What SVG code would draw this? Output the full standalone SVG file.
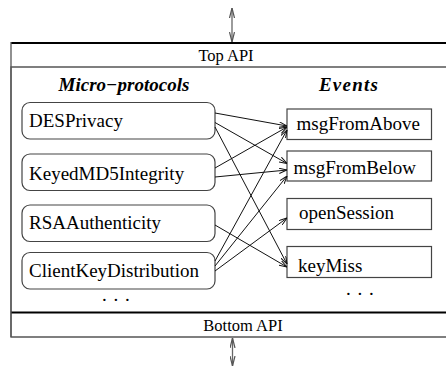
<svg xmlns="http://www.w3.org/2000/svg" width="446" height="368" viewBox="0 0 446 368">
  <style>
    .frame { fill: none; stroke: #555; stroke-width: 1.3; }
    .api { fill: none; stroke: #000; stroke-width: 2; }
    .proto { fill: #fff; stroke: #444; stroke-width: 1.2; }
    .event { fill: #fff; stroke: #444; stroke-width: 1.2; }
    .lbl { font-family: "Liberation Serif", "Times New Roman", serif; font-size: 19px; fill: #000; }
    .api-lbl { font-family: "Liberation Serif", "Times New Roman", serif; font-size: 16.5px; fill: #000; }
    .head { font-family: "Liberation Serif", "Times New Roman", serif; font-size: 19px; font-weight: bold; font-style: italic; fill: #000; }
    .dots { font-family: "Liberation Serif", "Times New Roman", serif; font-size: 19px; letter-spacing: 6.7px; fill: #000; }
    .conn { fill: none; stroke: #111; stroke-width: 1; }
    .io { fill: none; stroke: #666; stroke-width: 1.3; }
  </style>
  <defs>
    <marker id="tip" viewBox="0 0 8 6" refX="8" refY="3" markerWidth="8" markerHeight="6" markerUnits="userSpaceOnUse" orient="auto-start-reverse">
      <path d="M0,0.3 L8,3 L0,5.7" fill="none" stroke="#111" stroke-width="1"/>
    </marker>
    <marker id="ioTip" viewBox="0 0 10 6" refX="10" refY="3" markerWidth="10" markerHeight="6" markerUnits="userSpaceOnUse" orient="auto-start-reverse">
      <path d="M0,0.5 L10,3 L0,5.5" fill="none" stroke="#555" stroke-width="1.2"/>
    </marker>
  </defs>

  <!-- enclosing layer frame -->
  <g id="frame">
    <path class="frame" d="M460,67 H11 V337 H460"/>
    <line class="api" x1="11" y1="43" x2="460" y2="43"/>
    <line class="api" x1="11" y1="312.5" x2="460" y2="312.5"/>
    <line class="frame" x1="11" y1="42" x2="11" y2="337"/>
    <text class="api-lbl" x="226" y="61" text-anchor="middle">Top API</text>
    <text class="api-lbl" x="243" y="331" text-anchor="middle">Bottom API</text>
    <text class="head" x="124" y="91" text-anchor="middle">Micro−protocols</text>
    <text class="head" x="349" y="91" text-anchor="middle" letter-spacing="1.2">Events</text>
  </g>

  <!-- traffic into and out of the layer -->
  <g id="io">
    <line class="io" x1="232" y1="8" x2="232" y2="42" marker-start="url(#ioTip)" marker-end="url(#ioTip)"/>
    <line class="io" x1="232.5" y1="338" x2="232.5" y2="366" marker-start="url(#ioTip)" marker-end="url(#ioTip)"/>
  </g>

  <!-- micro-protocols -->
  <g id="DESPrivacy">
    <rect class="proto" x="22" y="102.5" width="193" height="36.5" rx="8"/>
    <text class="lbl" x="29" y="127">DESPrivacy</text>
  </g>
  <g id="KeyedMD5Integrity">
    <rect class="proto" x="22" y="154" width="193" height="36.5" rx="8"/>
    <text class="lbl" x="29" y="180">KeyedMD5Integrity</text>
  </g>
  <g id="RSAAuthenticity">
    <rect class="proto" x="22" y="205" width="193" height="36.5" rx="8"/>
    <text class="lbl" x="29" y="228.5">RSAAuthenticity</text>
  </g>
  <g id="ClientKeyDistribution">
    <rect class="proto" x="22" y="252.5" width="193" height="36.5" rx="8"/>
    <text class="lbl" x="29" y="277">ClientKeyDistribution</text>
  </g>
  <text class="dots" x="102" y="301">...</text>

  <!-- events -->
  <g id="msgFromAbove">
    <rect class="event" x="287" y="109" width="144.5" height="30.5"/>
    <text class="lbl" x="296.5" y="129.5">msgFromAbove</text>
  </g>
  <g id="msgFromBelow">
    <rect class="event" x="287" y="151" width="144.5" height="30"/>
    <text class="lbl" x="293.5" y="174">msgFromBelow</text>
  </g>
  <g id="openSession">
    <rect class="event" x="287" y="198.5" width="144.5" height="31"/>
    <text class="lbl" x="299" y="218.5">openSession</text>
  </g>
  <g id="keyMiss">
    <rect class="event" x="287" y="246.5" width="144.5" height="31"/>
    <text class="lbl" x="298" y="272">keyMiss</text>
  </g>
  <text class="dots" x="346" y="295">...</text>

  <!-- event handler bindings -->
  <g id="connectors">
    <line class="conn" x1="215" y1="113" x2="287" y2="126" marker-end="url(#tip)"/>
    <line class="conn" x1="215" y1="122.5" x2="287" y2="163.5" marker-end="url(#tip)"/>
    <line class="conn" x1="215" y1="127" x2="287" y2="264" marker-end="url(#tip)"/>
    <line class="conn" x1="215" y1="168" x2="287" y2="127" marker-end="url(#tip)"/>
    <line class="conn" x1="215" y1="177" x2="287" y2="170" marker-end="url(#tip)"/>
    <line class="conn" x1="215" y1="225" x2="287" y2="267" marker-end="url(#tip)"/>
    <line class="conn" x1="215" y1="261" x2="287" y2="130" marker-end="url(#tip)"/>
    <line class="conn" x1="215" y1="266" x2="287" y2="176" marker-end="url(#tip)"/>
    <line class="conn" x1="215" y1="271" x2="287" y2="218" marker-end="url(#tip)"/>
  </g>
</svg>
